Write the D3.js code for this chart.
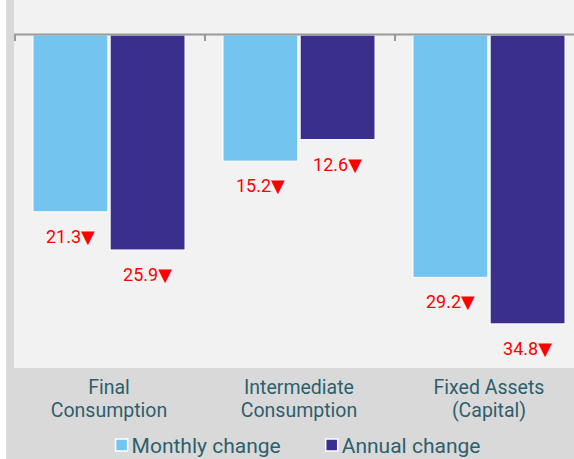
<!DOCTYPE html>
<html>
<head>
<meta charset="utf-8">
<script src="https://cdn.jsdelivr.net/npm/d3@7"></script>
<style>
  html, body { margin: 0; padding: 0; background: #fff; }
  svg { display: block; font-family: Roboto, "DejaVu Sans", sans-serif; }
</style>
</head>
<body>
<svg id="chart" width="574" height="459"></svg>
<script>
// data (percent decline)
const categories = [['Final', 'Consumption'], ['Intermediate', 'Consumption'], ['Fixed Assets', '(Capital)']]
const series = ['Monthly change', 'Annual change']
const monthly = [21.3, 15.2, 29.2]
const annual = [25.9, 12.6, 34.8]

const colors = { 'Monthly change': '#73c5ef', 'Annual change': '#3b2f8e' }
const textColor = '#2d5f6d'

const svg = d3.select('#chart')
const W = 574, H = 459
const plot = { left: 14, right: 584, top: 0, bottom: 368 }

// backgrounds
svg.append('rect').attr('width', W).attr('height', H).attr('fill', '#d9d9d9')
svg.append('rect').attr('width', 6).attr('height', H).attr('fill', '#fff')
svg.append('rect')
    .attr('x', plot.left).attr('y', plot.top)
    .attr('width', plot.right - plot.left).attr('height', plot.bottom - plot.top)
    .attr('fill', '#f2f2f2')

const keys = categories.map(c => c.join(' '))
const x0 = d3.scaleBand().domain(keys).range([plot.left, plot.right])
const x1 = d3.scaleBand().domain(series).range([19, 171]).paddingInner(0.03)
const y = d3.scaleLinear().domain([0, -40]).range([35, 367])

const rows = keys.map((k, i) => ({ key: k, 'Monthly change': monthly[i], 'Annual change': annual[i] }))

const g = svg.append('g')
const groups = g.selectAll('.grp')
    .data(rows)
    .join('g')
    .attr('class', 'grp')
    .attr('transform', d => `translate(${x0(d.key)},0)`)

groups.selectAll('rect')
    .data(d => series.map(s => ({ s, v: d[s] })))
    .join('rect')
    .attr('x', d => x1(d.s))
    .attr('y', y(0))
    .attr('width', x1.bandwidth())
    .attr('height', d => y(-d.v) - y(0))
    .attr('fill', d => colors[d.s])
    .attr('stroke', '#fff')
    .attr('stroke-width', 1)

groups.selectAll('.val')
    .data(d => series.map(s => ({ s, v: d[s] })))
    .join('text')
    .attr('class', 'val')
    .attr('x', d => x1(d.s) + x1.bandwidth() / 2)
    .attr('y', d => y(-d.v) + 31)
    .attr('text-anchor', 'middle')
    .attr('fill', '#ff0000')
    .attr('font-size', 18)
    .text(d => d.v.toFixed(1) + '▼')

// axis at zero with ticks at category boundaries
const axis = svg.append('g').attr('stroke', '#999')
axis.append('line')
    .attr('x1', plot.left).attr('x2', plot.right)
    .attr('y1', y(0) - 0.5).attr('y2', y(0) - 0.5)
    .attr('stroke-width', 2)
const bounds = keys.map(k => x0(k)).concat([plot.right])
axis.selectAll('.tick')
    .data(bounds)
    .join('line')
    .attr('class', 'tick')
    .attr('x1', d => d + 1).attr('x2', d => d + 1)
    .attr('y1', y(0)).attr('y2', y(0) + 6)
    .attr('stroke-width', 2)

// category labels
const cat = svg.selectAll('.cat')
    .data(categories)
    .join('text')
    .attr('class', 'cat')
    .attr('text-anchor', 'middle')
    .attr('fill', textColor)
    .attr('font-size', 19.5)
cat.selectAll('tspan')
    .data((d, i) => d.map(t => ({ t, i })))
    .join('tspan')
    .attr('x', d => x0(keys[d.i]) + x0.bandwidth() / 2)
    .attr('y', (d, j) => 394 + j * 23)
    .text(d => d.t)

// legend
const legend = svg.append('g')
let lx = 0
const items = legend.selectAll('.item')
    .data(series)
    .join('g')
    .attr('class', 'item')
items.append('rect')
    .attr('width', 12).attr('height', 12)
    .attr('y', 439)
    .attr('fill', d => colors[d])
    .attr('stroke', '#fff').attr('stroke-width', 1.5)
items.append('text')
    .attr('x', 16).attr('y', 453)
    .attr('fill', textColor)
    .attr('font-size', 21)
    .text(d => d)
items.each(function () {
    const w = this.getBBox().width
    d3.select(this).attr('transform', `translate(${lx},0)`)
    lx += w + 45
})
lx -= 45
legend.attr('transform', `translate(${298 - lx / 2},0)`)
</script>
</body>
</html>
